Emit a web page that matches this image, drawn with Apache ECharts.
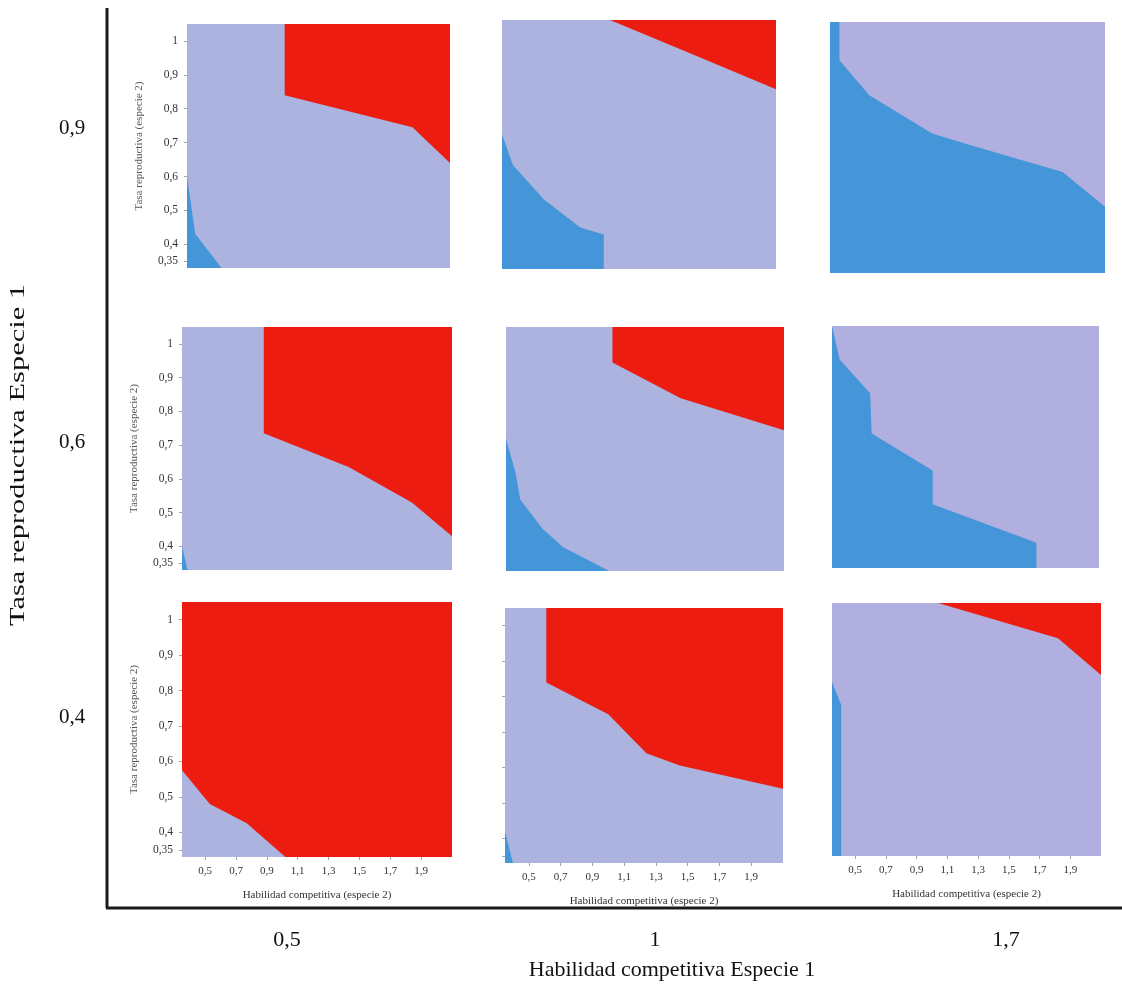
<!DOCTYPE html>
<html>
<head>
<meta charset="utf-8">
<script src="https://cdn.jsdelivr.net/npm/echarts@6/dist/echarts.min.js"></script>
<style>
html,body{margin:0;padding:0;background:#fff;}
#c{width:1122px;height:985px;}
</style>
</head>
<body>
<div id="c"></div>
<script>
// ---- data ----
const xTicks = [0.5, 0.7, 0.9, 1.1, 1.3, 1.5, 1.7, 1.9];
const yTicks = [0.35, 0.4, 0.5, 0.6, 0.7, 0.8, 0.9, 1];
const rowLabels = ['0,9', '0,6', '0,4'];   // Tasa reproductiva Especie 1
const colLabels = ['0,5', '1', '1,7'];     // Habilidad competitiva Especie 1

// red region (above boundary) and blue region (below boundary), per panel
const red_09_05 = [[1.0, 1.05], [1.0, 0.84], [1.85, 0.745], [2.1, 0.64]];
const blue_09_05 = [[0.35, 0.60], [0.405, 0.43], [0.58, 0.33]];
const red_09_1 = [[1.04, 1.05], [1.57, 0.95], [2.1, 0.85]];
const blue_09_1 = [[0.35, 0.72], [0.42, 0.63], [0.62, 0.53], [0.85, 0.45], [1.0, 0.43], [1.0, 0.33]];
const red_09_17 = [];
const blue_09_17 = [[0.35, 1.05], [0.41, 1.05], [0.41, 0.94], [0.6, 0.84], [0.71, 0.81], [1.0, 0.73], [1.22, 0.70], [1.83, 0.62], [2.1, 0.52]];

const red_06_05 = [[0.88, 1.05], [0.88, 0.735], [1.43, 0.635], [1.84, 0.53], [2.1, 0.43]];
const blue_06_05 = [[0.35, 0.40], [0.386, 0.33]];
const red_06_1 = [[1.02, 1.05], [1.02, 0.945], [1.45, 0.84], [2.1, 0.745]];
const blue_06_1 = [[0.35, 0.72], [0.41, 0.62], [0.44, 0.54], [0.58, 0.455], [0.71, 0.40], [1.0, 0.33]];
const red_06_17 = [];
const blue_06_17 = [[0.35, 1.05], [0.40, 0.95], [0.60, 0.85], [0.61, 0.73], [1.01, 0.62], [1.01, 0.52], [1.69, 0.405], [1.69, 0.33]];

const red_04_05 = [[0.35, 0.575], [0.53, 0.48], [0.77, 0.425], [1.02, 0.33], [2.1, 0.33]];
const blue_04_05 = [];
const red_04_1 = [[0.61, 1.05], [0.61, 0.84], [1.0, 0.75], [1.24, 0.64], [1.45, 0.605], [2.1, 0.54]];
const blue_04_1 = [[0.35, 0.42], [0.40, 0.33]];
const red_04_17 = [[1.04, 1.05], [1.82, 0.95], [2.1, 0.845]];
const blue_04_17 = [[0.35, 0.825], [0.41, 0.76], [0.41, 0.33]];

const panelData = [
  [red_09_05, blue_09_05], [red_09_1, blue_09_1], [red_09_17, blue_09_17],
  [red_06_05, blue_06_05], [red_06_1, blue_06_1], [red_06_17, blue_06_17],
  [red_04_05, blue_04_05], [red_04_1, blue_04_1], [red_04_17, blue_04_17]
];

// ---- layout ----
const boxes = [
  [187, 24, 263, 244], [502, 20, 274, 249], [830, 22, 275, 251],
  [182, 327, 270, 243], [506, 327, 278, 244], [832, 326, 267, 242],
  [182, 602, 270, 255], [505, 608, 278, 255], [832, 603, 269, 253]
];
const XMIN = 0.35, XMAX = 2.1, YMIN = 0.33, YMAX = 1.05;
const C_RED = '#ec1d10', C_BLUE = '#4496d8', C_LAV = '#abb3de', C_LAV2 = '#b1afdf';
const SERIF = '"Liberation Serif", "DejaVu Serif", serif';
const fmt = v => String(+v.toFixed(2)).replace('.', ',');

const grids = [], xAxes = [], yAxes = [], series = [];
boxes.forEach((b, i) => {
  const row = Math.floor(i / 3), col = i % 3;
  grids.push({
    left: b[0], top: b[1], width: b[2], height: b[3],
    show: true, backgroundColor: col === 2 ? C_LAV2 : C_LAV, borderWidth: 0
  });
  const showY = col === 0;
  const showYTicks = col === 0 || i === 7;
  const showX = row === 2;
  xAxes.push({
    type: 'value', gridIndex: i, min: XMIN, max: XMAX,
    axisLine: { show: false }, splitLine: { show: false },
    axisTick: { show: showX, customValues: xTicks, length: 3, lineStyle: { color: '#9aa' } },
    axisLabel: { show: showX, customValues: xTicks, formatter: fmt, margin: 9,
      fontFamily: SERIF, fontSize: 11, color: '#333' },
    name: showX ? 'Habilidad competitiva (especie 2)' : '',
    nameLocation: 'middle', nameGap: 33,
    nameTextStyle: { fontFamily: SERIF, fontSize: 11, color: '#333' }
  });
  yAxes.push({
    type: 'value', gridIndex: i, min: YMIN, max: YMAX,
    axisLine: { show: false }, splitLine: { show: false },
    axisTick: { show: showYTicks, customValues: yTicks, length: 3, lineStyle: { color: '#9aa' } },
    axisLabel: { show: showY, customValues: yTicks, formatter: fmt, margin: 9,
      fontFamily: SERIF, fontSize: 11.5, color: '#333' },
    name: showY ? 'Tasa reproductiva (especie 2)' : '',
    nameLocation: 'middle', nameGap: 42, nameRotate: 90,
    nameTextStyle: { fontFamily: SERIF, fontSize: 11, color: '#555' }
  });
  const [redD, blueD] = panelData[i];
  if (redD.length) series.push({
    type: 'line', xAxisIndex: i, yAxisIndex: i, data: redD,
    showSymbol: false, silent: true, lineStyle: { width: 0 },
    areaStyle: { color: C_RED, opacity: 1, origin: 'end' }
  });
  if (blueD.length) series.push({
    type: 'line', xAxisIndex: i, yAxisIndex: i, data: blueD,
    showSymbol: false, silent: true, lineStyle: { width: 0 },
    areaStyle: { color: C_BLUE, opacity: 1, origin: 'start' }
  });
});

const rowY = [128, 442, 717];
const colX = [287, 655, 1006];
const graphics = [
  { type: 'line', shape: { x1: 107, y1: 8, x2: 107, y2: 908 }, style: { stroke: '#1a1a1a', lineWidth: 3 } },
  { type: 'line', shape: { x1: 106, y1: 908, x2: 1122, y2: 908 }, style: { stroke: '#1a1a1a', lineWidth: 3 } },
  { type: 'text', x: 18, y: 455, rotation: Math.PI / 2, scaleX: 1.45,
    style: { text: 'Tasa reproductiva Especie 1', font: '21px ' + SERIF, fill: '#111', align: 'center', verticalAlign: 'middle' } },
  { type: 'text', x: 672, y: 970,
    style: { text: 'Habilidad competitiva Especie 1', font: '22px ' + SERIF, fill: '#111', align: 'center', verticalAlign: 'middle' } }
];
rowLabels.forEach((t, k) => graphics.push({ type: 'text', x: 72, y: rowY[k],
  style: { text: t, font: '21px ' + SERIF, fill: '#111', align: 'center', verticalAlign: 'middle' } }));
colLabels.forEach((t, k) => graphics.push({ type: 'text', x: colX[k], y: 940,
  style: { text: t, font: '22px ' + SERIF, fill: '#111', align: 'center', verticalAlign: 'middle' } }));

const chart = echarts.init(document.getElementById('c'), null, { renderer: 'canvas' });
chart.setOption({
  animation: false,
  backgroundColor: '#fff',
  grid: grids, xAxis: xAxes, yAxis: yAxes, series: series,
  graphic: graphics
});
</script>
</body>
</html>
